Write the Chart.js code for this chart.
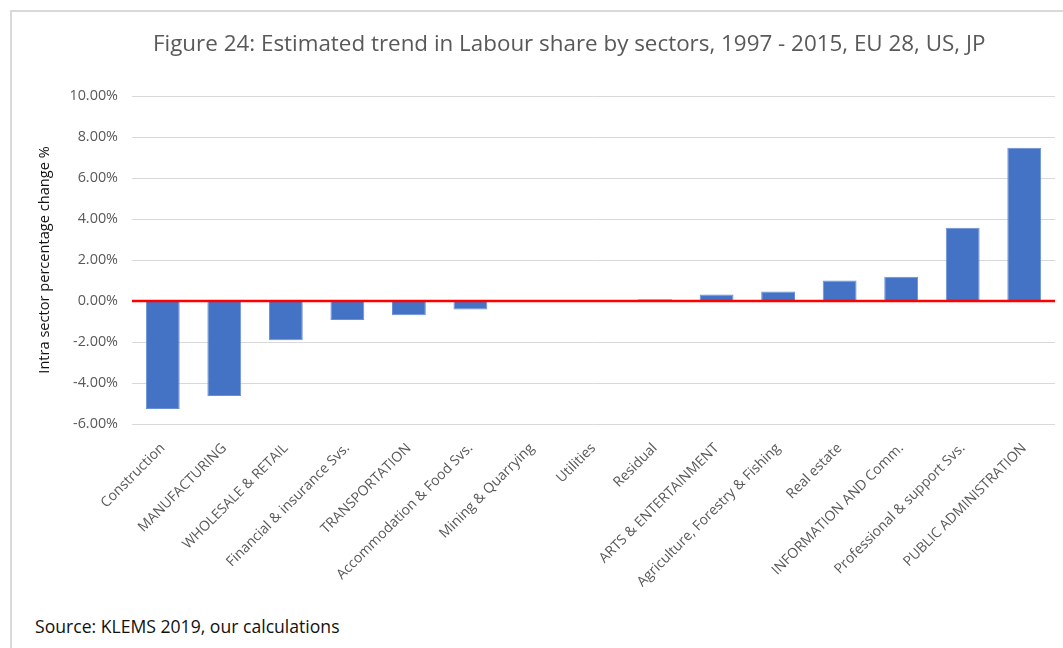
<!DOCTYPE html>
<html>
<head>
<meta charset="utf-8">
<script src="https://cdn.jsdelivr.net/npm/chart.js@4"></script>
<style>
    body { margin: 0; background: #fff; width: 1063px; height: 648px; overflow: hidden; position: relative; }
    #frame { position: absolute; left: 10px; top: 10px; width: 1053px; height: 638px;
             border-top: 2px solid #d9d9d9; border-left: 2px solid #d9d9d9; }
    #chart-wrap { position: absolute; left: 12px; top: 12px; width: 1051px; height: 600px; }
    #title { position: absolute; left: 153px; width: 832px; top: 27px; text-align: center; white-space: nowrap;
             font: 22.4px "Open Sans", sans-serif; color: #595959; }
    #source { position: absolute; left: 35px; top: 614px; font: 17.6px "Open Sans", sans-serif; color: #111; }
</style>
</head>
<body>
<div id="frame"></div>
<div id="chart-wrap"><canvas id="labour-chart"></canvas></div>
<div id="title">Figure 24: Estimated trend in Labour share by sectors, 1997 - 2015, EU 28, US, JP</div>
<div id="source">Source: KLEMS 2019, our calculations</div>

<script>
const sectors = [
    'Construction', 'MANUFACTURING', 'WHOLESALE & RETAIL', 'Financial & insurance Svs.',
    'TRANSPORTATION', 'Accommodation & Food Svs.', 'Mining & Quarrying', 'Utilities',
    'Residual', 'ARTS & ENTERTAINMENT', 'Agriculture, Forestry & Fishing', 'Real estate',
    'INFORMATION AND Comm.', 'Professional & support Svs.', 'PUBLIC ADMINISTRATION'
];
// intra sector change, in percent
const changePct = [-5.27, -4.64, -1.92, -0.93, -0.70, -0.41, 0, 0, 0.08, 0.32, 0.46, 1.0, 1.18, 3.57, 7.48];
const yTicks = [-6, -4, -2, 0, 2, 4, 6, 8, 10];

const font = '"Open Sans", sans-serif';

// red zero line on top of the bars
const zeroLine = {
    id: 'zeroLine',
    afterDatasetsDraw(chart) {
        const { ctx, chartArea, scales } = chart;
        const y = scales.y.getPixelForValue(0);
        ctx.save();
        ctx.strokeStyle = '#ff0000';
        ctx.lineWidth = 2.5;
        ctx.beginPath();
        ctx.moveTo(chartArea.left, y);
        ctx.lineTo(chartArea.right, y);
        ctx.stroke();
        ctx.restore();
    }
};

new Chart(document.getElementById('labour-chart'), {
    type: 'bar',
    data: {
        labels: sectors,
        datasets: [{
            data: changePct,
            backgroundColor: '#4472c4',
            borderColor: '#6a8fd6',
            borderWidth: 1,
            categoryPercentage: 1,
            barPercentage: 0.55
        }]
    },
    options: {
        responsive: true,
        maintainAspectRatio: false,
        animation: false,
        // top padding leaves room for the title above the plot
        layout: { padding: { left: 24, right: 8, top: 84, bottom: 0 } },
        plugins: {
            legend: { display: false },
            tooltip: { enabled: false }
        },
        scales: {
            x: {
                grid: { display: false },
                border: { display: false },
                ticks: {
                    autoSkip: false,
                    maxRotation: 45,
                    minRotation: 45,
                    padding: 8,
                    color: '#595959',
                    font: { family: font, size: 14 }
                },
                afterFit(scale) { scale.height = 188; }
            },
            y: {
                min: -6,
                max: 10,
                afterBuildTicks(scale) { scale.ticks = yTicks.map(v => ({ value: v })); },
                grid: { color: '#d9d9d9', lineWidth: 1, drawTicks: false },
                border: { display: false },
                ticks: {
                    padding: 14,
                    color: '#595959',
                    font: { family: font, size: 14.4 },
                    callback: v => v.toFixed(2) + '%'
                },
                title: {
                    display: true,
                    text: 'Intra sector percentage change %',
                    color: '#111',
                    font: { family: font, size: 14.6 },
                    padding: 0
                },
                afterFit(scale) { scale.width = 96; }
            }
        }
    },
    plugins: [zeroLine]
});
</script>
</body>
</html>
